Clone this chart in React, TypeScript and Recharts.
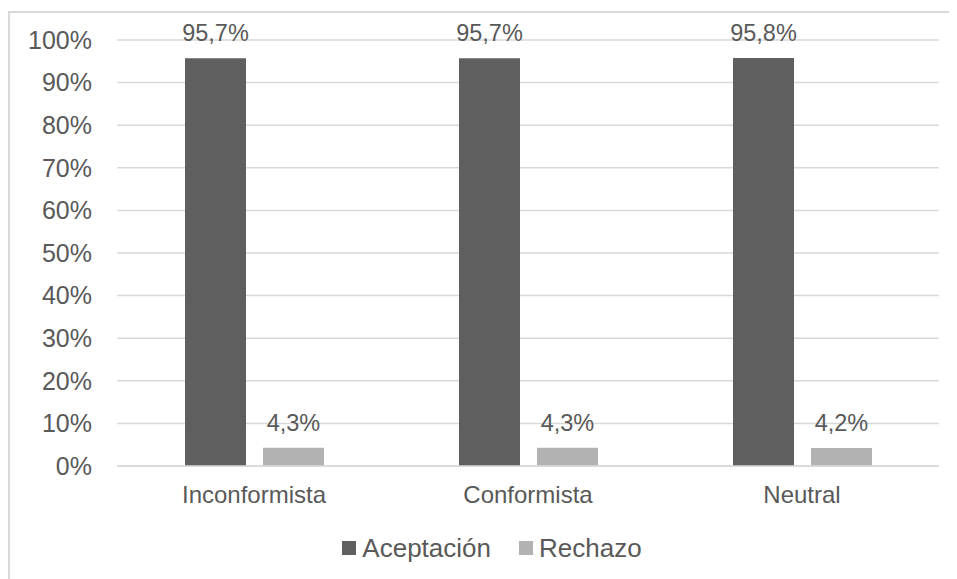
import { BarChart, Bar, XAxis, YAxis, CartesianGrid, LabelList, Legend } from 'recharts';

const categories = ['Inconformista', 'Conformista', 'Neutral'];
const aceptacion = [95.7, 95.7, 95.8];
const rechazo = [4.3, 4.3, 4.2];
const yTicks = [0, 10, 20, 30, 40, 50, 60, 70, 80, 90, 100];

const SERIES = [
  { key: 'aceptacion', name: 'Aceptación', color: '#5F5F5F' },
  { key: 'rechazo', name: 'Rechazo', color: '#B2B2B2' },
];

const data = categories.map((name, i) => ({
  name,
  aceptacion: aceptacion[i],
  rechazo: rechazo[i],
}));

const TEXT = '#595959';
const GRID = '#D9D9D9';
const FONT = '"Liberation Sans", Arial, sans-serif';

const fmtPct = (v: number) => `${v.toFixed(1).replace('.', ',')}%`;

function LegendContent() {
  return (
    <div style={{ display: 'flex', justifyContent: 'center', alignItems: 'center', height: 30, paddingLeft: 8 }}>
      {SERIES.map((s, i) => (
        <div key={s.key} style={{ display: 'flex', alignItems: 'center', marginRight: i === 0 ? 28 : 0 }}>
          <span style={{ width: 14, height: 14, background: s.color, display: 'inline-block', marginRight: 6 }} />
          <span style={{ fontFamily: FONT, fontSize: 26, color: TEXT, lineHeight: '30px' }}>{s.name}</span>
        </div>
      ))}
    </div>
  );
}

export default function App() {
  return (
    <div style={{ position: 'relative', width: 949, height: 571 }}>
      {/* chart frame: only top/left edges fall inside the page */}
      <div
        style={{
          position: 'absolute', top: 3, left: 0, right: 0, bottom: 0,
          borderTop: `2px solid ${GRID}`, borderLeft: `2px solid ${GRID}`,
        }}
      />
      <BarChart
        width={940}
        height={571}
        data={data}
        margin={{ top: 32, right: 9, bottom: 16, left: 29 }}
        barSize={61}
        barGap={17}
        style={{ fontFamily: FONT }}
      >
        <CartesianGrid vertical={false} stroke={GRID} strokeWidth={1.5} />
        <XAxis
          dataKey="name"
          axisLine={{ stroke: GRID, strokeWidth: 1.5 }}
          tickLine={false}
          tickSize={0}
          tickMargin={20}
          height={67}
          tick={{ fill: TEXT, fontSize: 24 }}
        />
        <YAxis
          domain={[0, 100]}
          ticks={yTicks}
          width={80}
          axisLine={false}
          tickLine={false}
          tickSize={0}
          tickMargin={25}
          tickFormatter={(v: number) => `${v}%`}
          tick={{ fill: TEXT, fontSize: 25 }}
        />
        <Legend verticalAlign="bottom" content={<LegendContent />} />
        {SERIES.map(s => (
          <Bar key={s.key} dataKey={s.key} name={s.name} fill={s.color} isAnimationActive={false}>
            <LabelList
              dataKey={s.key}
              position="top"
              offset={17}
              formatter={(v: number) => fmtPct(v)}
              style={{ fill: TEXT, fontSize: 23.5, fontFamily: FONT }}
            />
          </Bar>
        ))}
      </BarChart>
    </div>
  );
}
